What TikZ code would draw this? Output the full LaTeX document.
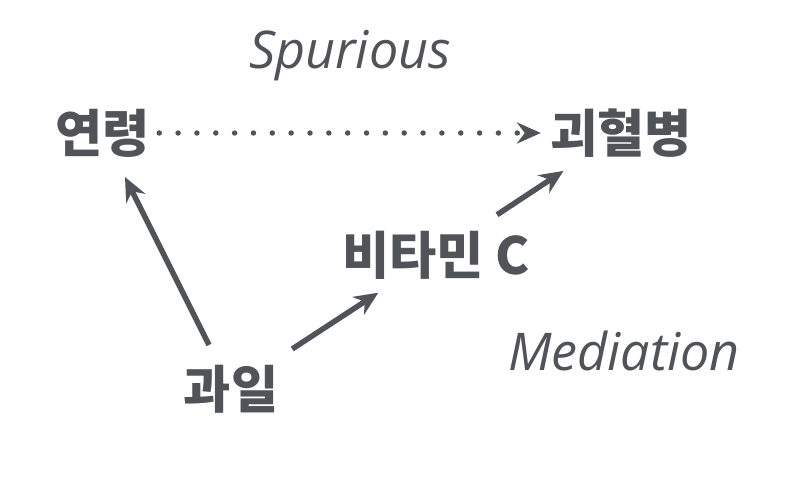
\documentclass[tikz,border=0pt]{standalone}
\usepackage{fontspec}
\newfontfamily\kfont{Noto Sans CJK KR}
\newfontfamily\lfont{Open Sans}
\usetikzlibrary{arrows.meta}
\definecolor{ink}{HTML}{505459}
\tikzset{
    > = {Stealth[length=17pt, width=15pt]},
    every path/.style = {color=ink, line width=3.9pt},
    var/.style = {text=ink, inner sep=0pt, font=\kfont\bfseries\fontsize{36.5}{40}\selectfont},
    tag/.style = {text=ink, inner sep=0pt, font=\lfont\itshape\fontsize{37}{40}\selectfont},
    dots/.style = {line cap=round, dash pattern=on 0pt off 13.4pt}
}

\begin{document}
\begin{tikzpicture}[x=0.025cm, y=-0.025cm]
    \useasboundingbox (0, 0) rectangle (804, 486);

    \node[var] (age) at (103, 133) {연령};
    \node[var] (scurvy) at (621, 133) {괴혈병};
    \node[var] (vitc) at (436, 255) {비타민 C};
    \node[var] (fruit) at (231, 389) {과일};

    \node[tag] (spurious) at (350, 56) {Spurious};
    \node[tag] (mediation) at (624, 351) {Mediation};

    \draw[->, dots, shorten <=40pt, shorten >=57pt] (age.center) -- (scurvy.center);
    \draw[->, shorten <=35pt, shorten >=35pt] (fruit.center) -- (age.center);
    \draw[->, shorten <=52pt, shorten >=49pt] (fruit.center) -- (vitc.center);
    \draw[->, shorten <=52pt, shorten >=49pt] (vitc.center) -- (scurvy.center);
\end{tikzpicture}
\end{document}
